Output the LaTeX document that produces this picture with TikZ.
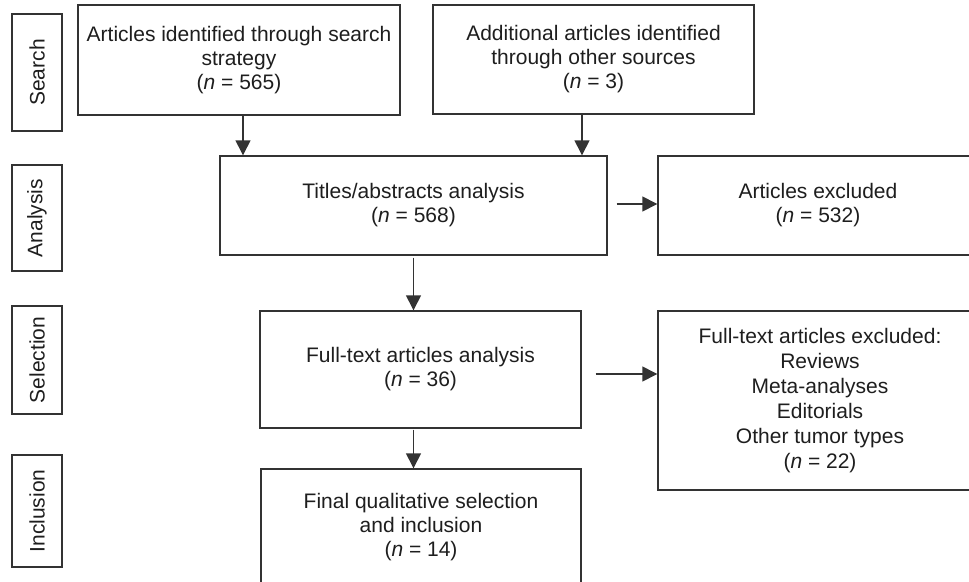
\documentclass[tikz,border=0pt]{standalone}
\usepackage{fontspec}
\setmainfont{Liberation Sans}
\usetikzlibrary{arrows.meta}
\definecolor{ln}{HTML}{333333}
\definecolor{tx}{HTML}{1E1E1E}
\tikzset{
  box/.style={draw=ln, line width=1.4pt, align=center, text=tx, inner sep=0pt,
    font=\fontsize{21}{24}\selectfont},
  stage/.style={draw=ln, line width=1.4pt, text=tx, rotate=90, inner sep=0pt,
    font=\fontsize{21}{24}\selectfont},
  arr/.style={draw=ln, line width=1.4pt, -{Triangle[width=15pt,length=15pt]}}
}
\begin{document}
\begin{tikzpicture}[x=1pt,y=-1pt]
\path[use as bounding box, clip] (0,0) rectangle (969,581);
\fill[white] (0,0) rectangle (969,581);
% stage labels
\node[stage, minimum width=117pt, minimum height=50pt] (search) at (37,72.5) {Search};
\node[stage, minimum width=106pt, minimum height=50pt] (analysis) at (37,218) {Analysis};
\node[stage, minimum width=108pt, minimum height=50pt] (selection) at (37,360) {Selection};
\node[stage, minimum width=112pt, minimum height=50pt] (inclusion) at (37,511) {Inclusion};
% boxes
\node[box, minimum width=322pt, minimum height=110pt] (b1) at (239,60)
  {Articles identified through search\\strategy\\(\textit{n} = 565)};
\node[box, minimum width=321pt, minimum height=109pt] (b2) at (593.5,59.5)
  {Additional articles identified\\through other sources\\(\textit{n} = 3)};
\node[box, minimum width=387pt, minimum height=99pt] (titles) at (413.5,205.5)
  {Titles/abstracts analysis\\(\textit{n} = 568)};
\node[box, minimum width=320pt, minimum height=99pt] (ex1) at (818,205.5)
  {Articles excluded\\(\textit{n} = 532)};
\node[box, minimum width=321pt, minimum height=117pt] (full) at (420.5,369.5)
  {Full-text articles analysis\\(\textit{n} = 36)};
\node[box, minimum width=324pt, minimum height=179pt, font=\fontsize{21}{25}\selectfont] (ex2) at (820,400.5)
  {Full-text articles excluded:\\Reviews\\Meta-analyses\\Editorials\\Other tumor types\\(\textit{n} = 22)};
\node[box, minimum width=320pt, minimum height=116pt] (final) at (421,527)
  {Final qualitative selection\\and inclusion\\(\textit{n} = 14)};
% connectors
\draw[arr] ([xshift=4pt]b1.south) -- ([xshift=4pt]b1.south |- titles.north);
\draw[arr] ([xshift=-11.5pt]b2.south) -- ([xshift=-11.5pt]b2.south |- titles.north);
\draw[arr] ([xshift=9pt,yshift=1.5pt]titles.east) -- ([yshift=1.5pt]titles.east -| ex1.west);
\draw[arr] ([yshift=-2pt]titles.south) -- (titles.south |- full.north);
\coordinate (fa) at ([xshift=14pt,yshift=-4.5pt]full.east);
\draw[arr] (fa) -- (fa -| ex2.west);
\draw[arr] ([yshift=-1pt]full.south -| titles.south) -- (titles.south |- final.north);
\end{tikzpicture}
\end{document}
